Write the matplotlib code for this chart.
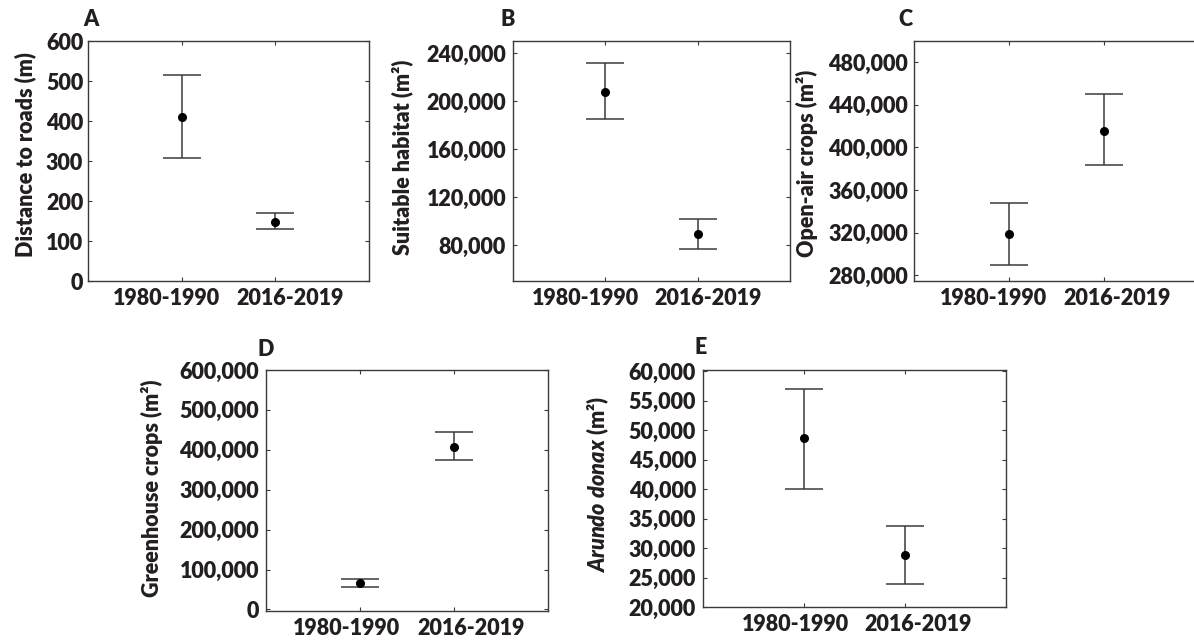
import matplotlib
matplotlib.use("Agg")
import matplotlib.pyplot as plt
from matplotlib.ticker import StrMethodFormatter, MultipleLocator
from matplotlib.transforms import ScaledTranslation

WEIGHT = 800
plt.rcParams["font.family"] = ["Lato", "DejaVu Sans"]
plt.rcParams["font.weight"] = WEIGHT
plt.rcParams["mathtext.fontset"] = "custom"
plt.rcParams["mathtext.it"] = "Lato:italic:heavy"
plt.rcParams["mathtext.rm"] = "Lato:heavy"

periods = ["1980-1990", "2016-2019"]

# mean, lower and upper bound per period
road_mean = [411, 148]
road_low = [307, 129]
road_high = [515, 169]

habitat_mean = [207500, 88900]
habitat_low = [185400, 76400]
habitat_high = [231400, 101900]

openair_mean = [318400, 415900]
openair_low = [290000, 383100]
openair_high = [347800, 450000]

greenhouse_mean = [65700, 408000]
greenhouse_low = [56500, 374500]
greenhouse_high = [75700, 443900]

arundo_mean = [48600, 28900]
arundo_low = [40050, 23900]
arundo_high = [57000, 33700]

W, H = 1194, 640
TEXT = "#231f20"
LINE = "#3a3a3a"
FS = 15.5

fig = plt.figure(figsize=(W / 100, H / 100), dpi=100)


def panel(box, letter, letter_xy, ylabel, label_x, mean, low, high,
          ylim, step, ticks_from, label_y=0.5, shifts=(-15, 14), ypad=5):
    l, r, t, b = box
    ax = fig.add_axes([l / W, 1 - b / H, (r - l) / W, (b - t) / H])
    x = list(range(len(periods)))
    yerr = [[m - lo for m, lo in zip(mean, low)],
            [hi - m for m, hi in zip(mean, high)]]
    ax.errorbar(x, mean, yerr=yerr, fmt="o", color="black", ms=5.5,
                ecolor=LINE, elinewidth=1.1, capsize=13.7, capthick=1.1)
    ax.set_xlim(-1, 2)
    ax.set_ylim(*ylim)
    ax.set_xticks(x)
    ax.set_xticklabels(periods, fontweight=WEIGHT)
    ax.yaxis.set_major_locator(MultipleLocator(step))
    ax.yaxis.set_major_formatter(StrMethodFormatter("{x:,.0f}"))
    ax.set_yticks([v for v in ax.get_yticks() if ticks_from <= v <= ylim[1]])
    ax.tick_params(direction="in", length=3, width=0.8, colors=LINE,
                   labelcolor=TEXT, labelsize=FS, top=True, right=True)
    ax.tick_params(axis="x", pad=5)
    ax.tick_params(axis="y", pad=ypad)
    for lab in ax.get_yticklabels():
        lab.set_fontweight(WEIGHT)
    # the two period labels sit a little apart from their ticks
    for lab, dx in zip(ax.get_xticklabels(), shifts):
        lab.set_transform(lab.get_transform() +
                          ScaledTranslation(dx / 100, 0, fig.dpi_scale_trans))
    for s in ax.spines.values():
        s.set_color(LINE)
        s.set_linewidth(1.0)
    ax.set_ylabel(ylabel, fontsize=FS, fontweight=WEIGHT, color=TEXT,
                  va="center")
    ax.yaxis.set_label_coords(label_x, label_y)
    fig.text(letter_xy[0] / W, 1 - letter_xy[1] / H, letter, fontsize=FS,
             fontweight=WEIGHT, color=TEXT, ha="center", va="center")
    return ax


panel((88, 369, 41, 281), "A", (91, 20), "Distance to roads (m)", -0.224,
      road_mean, road_low, road_high, (0, 600), 100, 0, 0.525, (-15, 15), 3.5)
panel((513, 790, 41, 281), "B", (508, 20), "Suitable habitat (m²)", -0.401,
      habitat_mean, habitat_low, habitat_high, (50000, 250000), 40000, 80000,
      0.517, (-20, 10))
panel((914, 1199, 41, 281), "C", (905, 20), "Open-air crops (m²)", -0.375,
      openair_mean, openair_low, openair_high, (274500, 500000), 40000, 280000,
      0.49, (-16, 13), 4.5)
panel((266, 548, 370, 611), "D", (266, 350), "Greenhouse crops (m²)", -0.404,
      greenhouse_mean, greenhouse_low, greenhouse_high, (-4000, 600000), 100000,
      0, 0.51, (-14, 17))
panel((703, 1006, 370, 607), "E", (701, 348), r"$Arundo\ donax$ (m²)", -0.347,
      arundo_mean, arundo_low, arundo_high, (20000, 60200), 5000, 20000,
      0.515, (-9, 13))

fig.savefig("out.png", dpi=100)
